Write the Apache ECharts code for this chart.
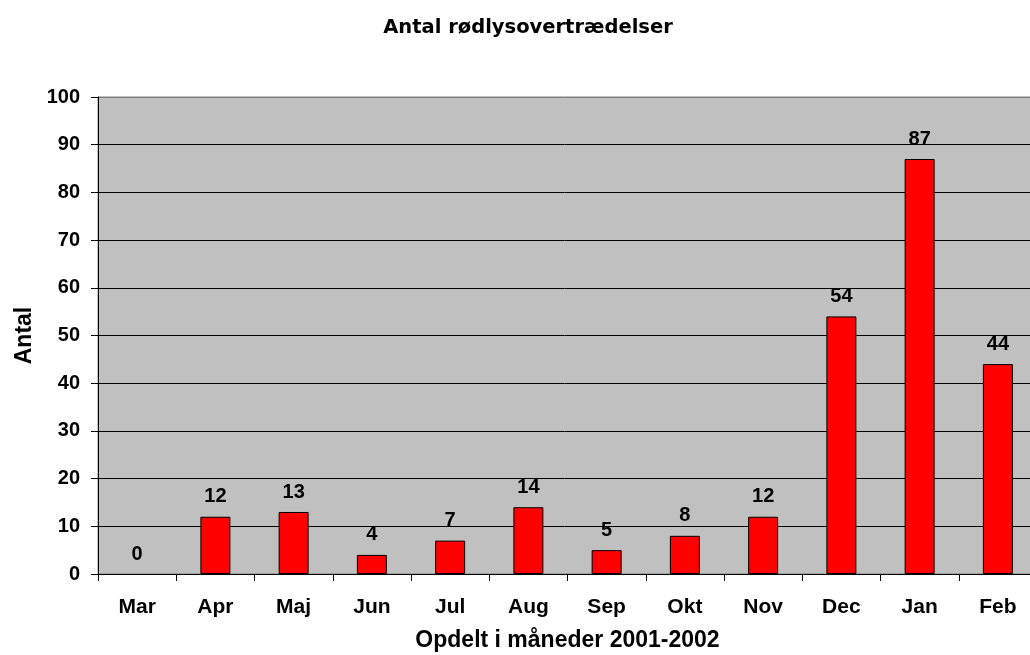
<!DOCTYPE html>
<html lang="da">
<head>
  <meta charset="UTF-8">
  <title>Antal rødlysovertrædelser</title>
  <style>
    html, body { margin: 0; padding: 0; background: #fff; }
  </style>
</head>
<body>
  <div id="chart" style="width: 1030px;height: 655px;"></div>
  <script src="https://cdn.jsdelivr.net/npm/echarts@6/dist/echarts.min.js"></script>
  <script>
    let months = ['Mar', 'Apr', 'Maj', 'Jun', 'Jul', 'Aug', 'Sep', 'Okt', 'Nov', 'Dec', 'Jan', 'Feb']
    let counts = [0, 12, 13, 4, 7, 14, 5, 8, 12, 54, 87, 44]
    let yTicks = [0, 10, 20, 30, 40, 50, 60, 70, 80, 90, 100]

    let font = 'Liberation Sans, Arial, sans-serif'
    // top gridline doubles as the grey plot border
    let gridColors = yTicks.map((t, i) => i === yTicks.length - 1 ? '#808080' : '#000')
    // a zero bar should not leave an outline on the axis
    let barData = counts.map(v => v === 0 ? { value: v, itemStyle: { borderWidth: 0 } } : v)

    let myChart = echarts.init(document.getElementById('chart'))
    let option = {
      animation: false,
      backgroundColor: '#ffffff',
      title: {
        text: 'Antal rødlysovertrædelser',
        left: 523,
        textAlign: 'center',
        top: 13,
        textStyle: { fontFamily: 'DejaVu Sans', fontSize: 19.5, fontWeight: 'bold', color: '#000' }
      },
      grid: {
        left: 98,
        right: -7,
        top: 97,
        bottom: 81,
        outerBoundsMode: 'none',
        containLabel: false,
        show: true,
        backgroundColor: '#c0c0c0',
        borderColor: '#808080',
        borderWidth: 1
      },
      xAxis: {
        type: 'category',
        data: months,
        name: 'Opdelt i måneder 2001-2002',
        nameLocation: 'middle',
        nameGap: 55,
        nameTextStyle: { fontFamily: font, fontSize: 23, fontWeight: 'bold', color: '#000' },
        axisLine: { lineStyle: { color: '#000', width: 1 } },
        axisTick: { show: true, length: 7, lineStyle: { color: '#000' } },
        axisLabel: { fontFamily: font, fontSize: 21, fontWeight: 'bold', color: '#000', margin: 23 }
      },
      yAxis: {
        type: 'value',
        min: yTicks[0],
        max: yTicks[yTicks.length - 1],
        interval: 10,
        name: 'Antal',
        nameLocation: 'middle',
        nameGap: 62,
        nameRotate: 90,
        nameTextStyle: { fontFamily: font, fontSize: 23, fontWeight: 'bold', color: '#000' },
        axisLine: { show: true, lineStyle: { color: '#000', width: 1 } },
        axisTick: { show: true, length: 7, lineStyle: { color: '#000' } },
        axisLabel: { fontFamily: font, fontSize: 20, fontWeight: 'bold', color: '#000', margin: 18 },
        splitLine: { show: true, lineStyle: { color: gridColors, width: 1 } }
      },
      series: [{
        type: 'bar',
        data: barData,
        barWidth: 30,
        itemStyle: { color: '#ff0000', borderColor: '#000', borderWidth: 1 },
        label: {
          show: true,
          position: 'top',
          distance: 10,
          fontFamily: font,
          fontSize: 20,
          fontWeight: 'bold',
          color: '#000'
        }
      }]
    }
    myChart.setOption(option)
  </script>
</body>
</html>
